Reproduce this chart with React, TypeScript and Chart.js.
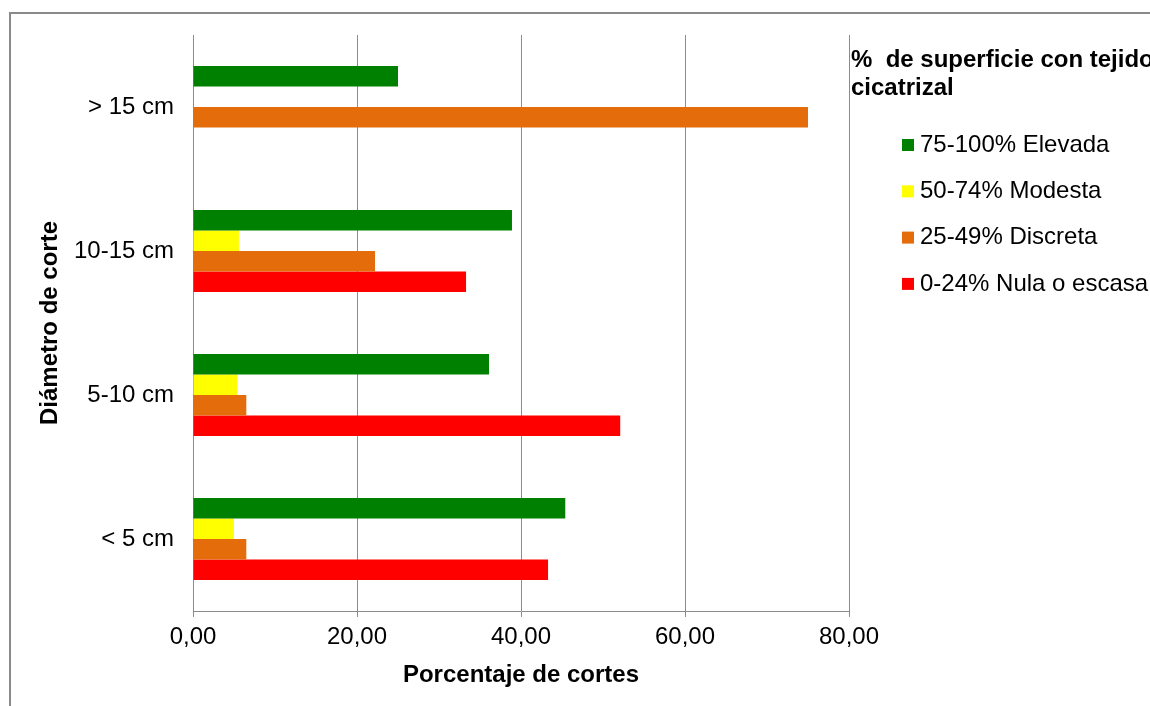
import React, { useEffect, useRef } from "react";
import { Chart, registerables } from "chart.js";

Chart.register(...registerables);

// ---- data ----
const categories = ["> 15 cm", "10-15 cm", "5-10 cm", "< 5 cm"];
const seriesNames = ["75-100% Elevada", "50-74% Modesta", "25-49% Discreta", "0-24% Nula o escasa"];
const elevada = [25.0, 38.9, 36.1, 45.4];
const modesta = [0, 5.6, 5.4, 5.0];
const discreta = [75.0, 22.2, 6.5, 6.5];
const nula = [0, 33.3, 52.1, 43.3];
const seriesColors = ["#008000", "#FFFF00", "#E46C0A", "#FF0000"];
const xTickValues = [0, 20, 40, 60, 80];
const legendTitle = ["%  de superficie con tejido", "cicatrizal"];
const xTitle = "Porcentaje de cortes";
const yTitle = "Diámetro de corte";

const FONT = '"Liberation Sans", Arial, Helvetica, sans-serif';
const GRID = "#8c8c8c";

const sideLegend = {
  id: "sideLegend",
  afterDraw(chart: any) {
    const ctx = chart.ctx;
    const area = chart.chartArea;
    const x0 = area.right + 2;
    ctx.save();
    ctx.textBaseline = "middle";
    ctx.textAlign = "left";
    ctx.fillStyle = "#000";
    ctx.font = `bold 24px ${FONT}`;
    legendTitle.forEach((t, i) => ctx.fillText(t, x0, area.top + 25 + i * 28));
    ctx.font = `24px ${FONT}`;
    chart.data.datasets.forEach((ds: any, i: number) => {
      const y = area.top + 110 + i * 46.3;
      ctx.fillStyle = ds.backgroundColor;
      ctx.fillRect(x0 + 51, y - 6, 12, 12);
      ctx.fillStyle = "#000";
      ctx.fillText(ds.label, x0 + 69, y);
    });
    ctx.restore();
  },
};

export default function App() {
  const ref = useRef<HTMLCanvasElement | null>(null);

  useEffect(() => {
    if (!ref.current) return;
    const values = [elevada, modesta, discreta, nula];
    const chart = new Chart(ref.current, {
      type: "bar",
      data: {
        labels: categories,
        datasets: values.map((v, i) => ({
          label: seriesNames[i],
          data: v,
          backgroundColor: seriesColors[i],
          borderWidth: 0,
          categoryPercentage: 0.57,
          barPercentage: 1.0,
        })),
      },
      options: {
        indexAxis: "y",
        responsive: false,
        animation: false,
        events: [],
        layout: { padding: { left: 0, top: 21, right: 442, bottom: 103 } },
        plugins: {
          legend: { display: false },
          tooltip: { enabled: false },
        },
        scales: {
          x: {
            type: "linear",
            min: 0,
            max: 80,
            afterBuildTicks: (scale: any) => {
              scale.ticks = xTickValues.map((v) => ({ value: v }));
            },
            afterFit: (scale: any) => {
              scale.height = 80;
              scale.paddingLeft = 0;
              scale.paddingRight = 0;
            },
            grid: { color: GRID, lineWidth: 1, drawTicks: true, tickLength: 6 },
            border: { display: true, color: GRID, width: 1 },
            ticks: {
              color: "#000",
              padding: 6,
              maxRotation: 0,
              font: { family: FONT, size: 24 },
              callback: (v: any) => Number(v).toFixed(2).replace(".", ","),
            },
            title: {
              display: true,
              text: xTitle,
              color: "#000",
              font: { family: FONT, size: 24, weight: "bold" },
              padding: { top: 0, bottom: 1 },
            },
          },
          y: {
            type: "category",
            afterFit: (scale: any) => {
              scale.width = 182;
              scale.paddingTop = 0;
              scale.paddingBottom = 0;
            },
            grid: { display: false, drawTicks: false },
            border: { display: true, color: GRID, width: 1 },
            ticks: {
              color: "#000",
              padding: 19,
              font: { family: FONT, size: 24 },
            },
            title: {
              display: true,
              text: yTitle,
              color: "#000",
              font: { family: FONT, size: 24, weight: "bold" },
              padding: { top: 25, bottom: 0 },
            },
          },
        },
      },
      plugins: [sideLegend],
    } as any);
    return () => chart.destroy();
  }, []);

  return (
    <div
      style={{
        position: "fixed",
        left: 0,
        top: 0,
        width: 1150,
        height: 706,
        overflow: "hidden",
        background: "#fff",
      }}
    >
      <div
        style={{
          position: "absolute",
          left: 9,
          top: 12,
          width: 1300,
          height: 800,
          border: "2px solid #8a8a8a",
          boxSizing: "border-box",
          background: "#fff",
        }}
      >
        <canvas ref={ref} width={1280} height={780} style={{ display: "block" }} />
      </div>
    </div>
  );
}
